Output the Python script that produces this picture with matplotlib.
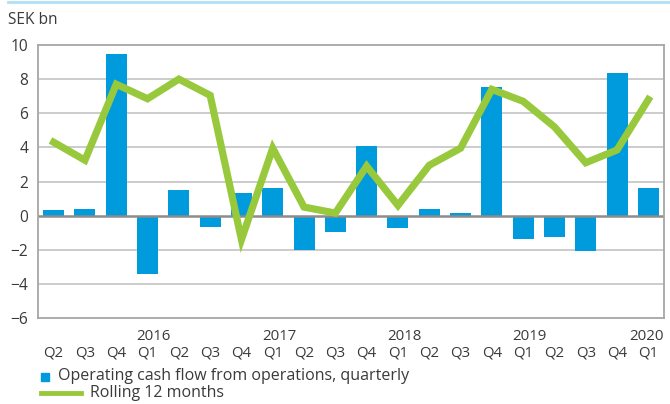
import matplotlib.pyplot as plt
from matplotlib.lines import Line2D
from matplotlib.patches import Rectangle
import numpy as np

# quarterly data, 2015 Q2 .. 2020 Q1
quarters = ["Q2", "Q3", "Q4", "Q1", "Q2", "Q3", "Q4", "Q1", "Q2", "Q3",
            "Q4", "Q1", "Q2", "Q3", "Q4", "Q1", "Q2", "Q3", "Q4", "Q1"]
years = ["2016", "2017", "2018", "2019", "2020"]
year_pos = [3, 7, 11, 15, 19]

quarterly = [0.35, 0.4, 9.5, -3.4, 1.5, -0.65, 1.35, 1.6, -2.0, -0.95,
             4.1, -0.7, 0.4, 0.15, 7.55, -1.35, -1.25, -2.05, 8.35, 1.6]
rolling = [4.3, 3.25, 7.7, 6.85, 8.0, 7.05, -1.4, 3.95, 0.5, 0.15,
           2.9, 0.6, 2.95, 3.95, 7.4, 6.7, 5.2, 3.1, 3.85, 6.8]

BLUE = "#009bdc"
GREEN = "#98c93c"
GRID = "#c3c3c3"
TEXT = "#3a3a3a"

plt.rcParams["font.family"] = ["Open Sans", "DejaVu Sans"]

fig = plt.figure(figsize=(6.7, 4.04), dpi=100)
ax = fig.add_axes([38 / 670, 1 - 318 / 404, 626 / 670, 273 / 404])

x = np.arange(len(quarterly))
ax.bar(x, quarterly, width=0.67, color=BLUE, zorder=2)
ax.plot(x, rolling, color=GREEN, linewidth=5.2, solid_joinstyle="miter", zorder=3)

ax.set_xlim(-0.5, len(quarterly) - 0.5)
ax.set_ylim(-6, 10)
ax.set_yticks(range(-6, 11, 2))
for v in range(-4, 10, 2):
    if v == 0:
        continue
    ax.axhline(v, color=GRID, linewidth=1.2, zorder=1)
ax.axhline(0, color="#8c8c8c", linewidth=1.8, zorder=2.5)

for side in ["left", "right", "top", "bottom"]:
    ax.spines[side].set_color("#a6a6a6")
    ax.spines[side].set_linewidth(1.3)

ax.set_xticks(x)
ax.set_xticklabels(quarters)
ax.tick_params(axis="x", length=0, pad=20, labelsize=10.8, labelcolor=TEXT)
ax.tick_params(axis="y", length=0, pad=7, labelsize=11.2, labelcolor=TEXT)

for pos, yr in zip(year_pos, years):
    shift = 0.2 if pos < len(quarterly) - 1 else -0.05
    ax.text(pos + shift, -0.04, yr, transform=ax.get_xaxis_transform(),
            ha="center", va="top", fontsize=10.8, color=TEXT)

fig.text(8 / 670, 1 - 20 / 404, "SEK bn", ha="left", va="center",
         fontsize=11.2, color=TEXT)

# thin accent line along the top of the figure
fig.add_artist(Line2D([8 / 670, 1], [1 - 1.5 / 404] * 2, color="#aee0f5", linewidth=2))

# legend
fig.add_artist(Rectangle((41 / 670, 1 - 381 / 404), 8 / 670, 8 / 404,
                         color=BLUE, transform=fig.transFigure))
fig.text(58 / 670, 1 - 376 / 404, "Operating cash flow from operations, quarterly",
         ha="left", va="center", fontsize=11.5, color=TEXT)
fig.add_artist(Line2D([41 / 670, 81 / 670], [1 - 393 / 404] * 2,
                      color=GREEN, linewidth=3.5))
fig.text(90 / 670, 1 - 393 / 404, "Rolling 12 months",
         ha="left", va="center", fontsize=11.5, color=TEXT)

fig.savefig("out.png", dpi=100)
